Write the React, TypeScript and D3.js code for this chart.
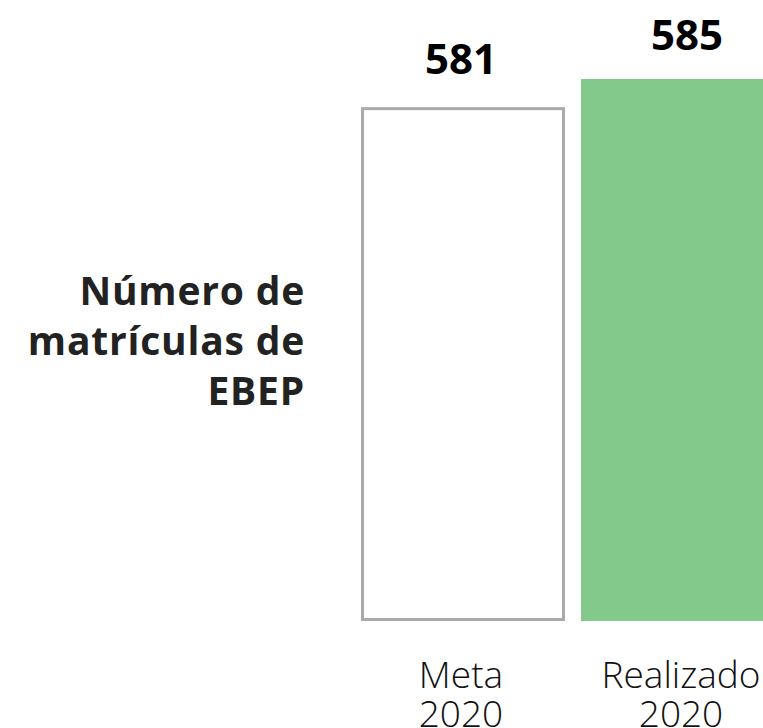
import React from 'react';
import * as d3 from 'd3';

const categories = ['Meta', 'Realizado'];
const years = ['2020', '2020'];
const values = [581, 585];
const axisTitle = ['Número de', 'matrículas de', 'EBEP'];

const W = 763;
const H = 728;
const font = "'Open Sans', 'Noto Sans', sans-serif";

export default function App() {
  const x = d3
    .scaleBand<string>()
    .domain(categories)
    .range([361, 785])
    .paddingInner(0.073)
    .paddingOuter(0);

  const y = d3.scaleLinear().domain([508, 585]).range([621, 79]);
  const base = y(508);

  return (
    <svg
      width={W}
      height={H}
      style={{ position: 'absolute', top: 0, left: 0, background: '#fff' }}
    >
      {categories.map((c, i) => {
        const bx = x(c) as number;
        const bw = x.bandwidth();
        const top = y(values[i]);
        const cx = bx + bw / 2;
        return (
          <g key={c}>
            {i === 0 ? (
              <rect
                x={bx + 1.5}
                y={top + 1.5}
                width={bw - 3}
                height={base - top - 3}
                fill="#fff"
                stroke="#aaaaaa"
                strokeWidth={3}
              />
            ) : (
              <rect x={bx} y={top} width={bw} height={base - top} fill="#83c98c" />
            )}
            <text
              x={cx + (i === 0 ? -2 : 4)}
              y={top - (i === 0 ? 33 : 29)}
              textAnchor="middle"
              fontFamily={font}
              fontWeight={700}
              fontSize={42}
              fill="#000"
            >
              {values[i]}
            </text>
            <text
              x={cx - 2}
              y={688}
              textAnchor="middle"
              fontFamily={font}
              fontWeight={300}
              fontSize={37}
              fill="#111"
            >
              <tspan x={cx - 2}>{c}</tspan>
              <tspan x={cx - 2} dy={39}>{years[i]}</tspan>
            </text>
          </g>
        );
      })}
      <text
        textAnchor="end"
        fontFamily={font}
        fontWeight={700}
        fontSize={39}
        letterSpacing={0.8}
        fill="#222"
      >
        {axisTitle.map((t, i) => (
          <tspan key={t} x={305} y={305 + i * 50}>
            {t}
          </tspan>
        ))}
      </text>
    </svg>
  );
}
